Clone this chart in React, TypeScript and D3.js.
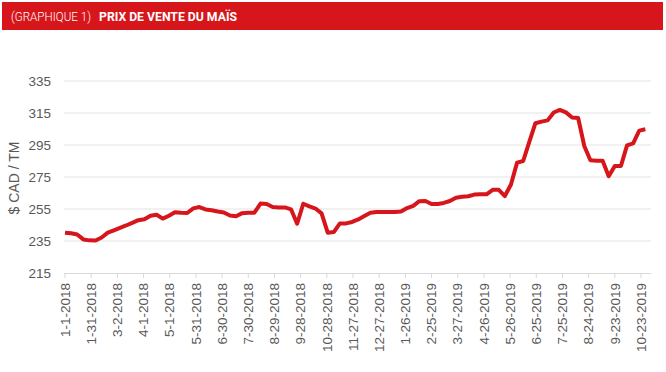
import React, { useEffect, useRef } from "react";
import * as d3 from "d3";

// weekly corn prices ($ CAD / TM), first week starts 1-1-2018
const startDate = "2018-01-01";
const prices = [
  240.2, 239.8, 239.1, 236, 235.4, 235.3, 237.2, 240.2, 241.7, 243.2,
  244.7, 246.3, 248, 248.6, 250.8, 251.4, 249, 250.8, 253, 252.6,
  252.5, 255.4, 256.2, 254.7, 254.2, 253.4, 252.8, 250.9, 250.5, 252.4,
  252.7, 252.7, 258.4, 258.1, 256.2, 256, 256, 254.8, 245.8, 258.3,
  256.6, 255.3, 252.3, 240.2, 240.6, 246, 246, 246.9, 248.5, 250.6,
  252.7, 253.1, 253.1, 253.1, 253.1, 253.4, 255.6, 257, 259.9, 260,
  258.1, 258.1, 258.8, 260, 262, 262.6, 263, 264, 264.2, 264.2,
  267, 267, 263.1, 270.3, 284, 285, 296.9, 308.6, 309.6, 310.4,
  315.3, 316.9, 315.4, 312.2, 311.9, 294.4, 285.5, 285.2, 285.2, 275.5,
  281.9, 281.9, 294.8, 296, 304, 304.8
];

const yTicks = [215, 235, 255, 275, 295, 315, 335];

const xTickLabels = [
  "1-1-2018", "1-31-2018", "3-2-2018", "4-1-2018", "5-1-2018", "5-31-2018",
  "6-30-2018", "7-30-2018", "8-29-2018", "9-28-2018", "10-28-2018", "11-27-2018",
  "12-27-2018", "1-26-2019", "2-25-2019", "3-27-2019", "4-26-2019", "5-26-2019",
  "6-25-2019", "7-25-2019", "8-24-2019", "9-23-2019", "10-23-2019"
];

const RED = "#d7161c";
const GREY_TEXT = "#595959";

function parseLabel(s: string): Date {
  const [m, d, y] = s.split("-").map(Number);
  return new Date(Date.UTC(y, m - 1, d));
}

export default function App() {
  const ref = useRef<SVGSVGElement>(null);

  useEffect(() => {
    const width = 666, height = 372;
    const svg = d3.select(ref.current);
    svg.selectAll("*").remove();
    svg.attr("width", width).attr("height", height);

    // header band
    svg.append("rect")
      .attr("x", 2).attr("y", 2)
      .attr("width", 661).attr("height", 28)
      .attr("fill", RED);

    svg.append("text")
      .attr("x", 11).attr("y", 21)
      .attr("fill", "#fff")
      .attr("font-family", "Roboto, sans-serif")
      .attr("font-size", 12.5)
      .attr("font-weight", 300)
      .attr("textLength", 80)
      .attr("lengthAdjust", "spacingAndGlyphs")
      .text("(GRAPHIQUE 1)");

    svg.append("text")
      .attr("x", 99).attr("y", 21)
      .attr("fill", "#fff")
      .attr("font-family", "Roboto, sans-serif")
      .attr("font-size", 12.5)
      .attr("font-weight", 700)
      .attr("textLength", 138)
      .attr("lengthAdjust", "spacingAndGlyphs")
      .text("PRIX DE VENTE DU MAÏS");

    const first = parseLabel(xTickLabels[0]);
    const last = parseLabel(xTickLabels[xTickLabels.length - 1]);

    const x = d3.scaleUtc().domain([first, last]).range([65, 641]);
    const y = d3.scaleLinear().domain([215, 335]).range([273, 81]);

    const gridLeft = 64, gridRight = 651;

    // gridlines
    svg.append("g")
      .selectAll("line")
      .data(yTicks.slice(1))
      .join("line")
      .attr("x1", gridLeft).attr("x2", gridRight)
      .attr("y1", d => y(d)).attr("y2", d => y(d))
      .attr("stroke", "#e3e3e3")
      .attr("stroke-width", 1);

    // y labels
    svg.append("g")
      .selectAll("text")
      .data(yTicks)
      .join("text")
      .attr("x", 51)
      .attr("y", d => y(d))
      .attr("dy", "0.35em")
      .attr("text-anchor", "end")
      .attr("fill", GREY_TEXT)
      .attr("font-family", "'Liberation Sans', Arial, sans-serif")
      .attr("font-size", 13.5)
      .text(d => d);

    // y title
    svg.append("text")
      .attr("transform", `translate(14,178) rotate(-90)`)
      .attr("dy", "0.35em")
      .attr("text-anchor", "middle")
      .attr("fill", GREY_TEXT)
      .attr("font-family", "'Liberation Sans', Arial, sans-serif")
      .attr("font-size", 14)
      .text("$ CAD / TM");

    // x axis line + ticks
    svg.append("line")
      .attr("x1", gridLeft).attr("x2", gridRight)
      .attr("y1", y(215) + 0.5).attr("y2", y(215) + 0.5)
      .attr("stroke", "#d9d9d9");

    const tickDates = xTickLabels.map(parseLabel);

    svg.append("g")
      .selectAll("line")
      .data(tickDates)
      .join("line")
      .attr("x1", d => x(d)).attr("x2", d => x(d))
      .attr("y1", y(215)).attr("y2", y(215) + 5)
      .attr("stroke", "#d9d9d9");

    svg.append("g")
      .selectAll("text")
      .data(xTickLabels)
      .join("text")
      .attr("transform", (d, i) => `translate(${x(tickDates[i])},283) rotate(-90)`)
      .attr("dy", "0.35em")
      .attr("text-anchor", "end")
      .attr("fill", GREY_TEXT)
      .attr("font-family", "'Liberation Sans', Arial, sans-serif")
      .attr("font-size", 13.5)
      .text(d => d);

    // price line
    const start = new Date(startDate + "T00:00:00Z");
    const data = prices.map((v, i) => ({ date: d3.utcDay.offset(start, i * 7), value: v }));

    const line = d3.line<{ date: Date; value: number }>()
      .x(d => x(d.date))
      .y(d => y(d.value));

    svg.append("path")
      .datum(data)
      .attr("d", line)
      .attr("fill", "none")
      .attr("stroke", RED)
      .attr("stroke-width", 4)
      .attr("stroke-linejoin", "round")
      .attr("stroke-linecap", "butt");
  }, []);

  return (
    <svg ref={ref} style={{ position: "absolute", left: 0, top: 0, display: "block" }} />
  );
}
